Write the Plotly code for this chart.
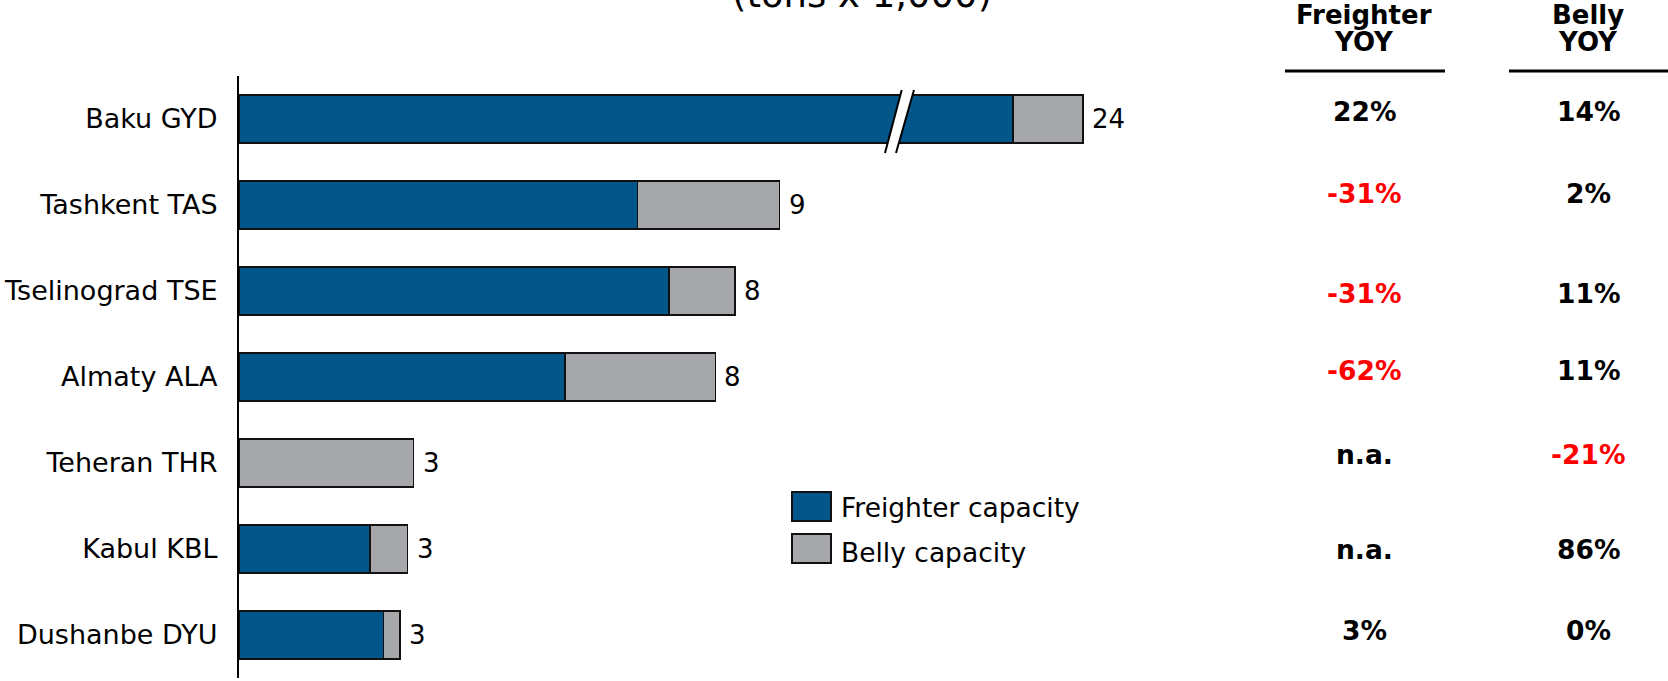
import plotly.graph_objects as go

# ---------------- data ----------------
categories = ["Baku GYD", "Tashkent TAS", "Tselinograd TSE", "Almaty ALA",
              "Teheran THR", "Kabul KBL", "Dushanbe DYU"]
freighter = [22.8, 6.64, 7.17, 5.43, 0.0, 2.18, 2.41]   # tons x 1,000
belly = [1.17, 2.37, 1.10, 2.51, 2.91, 0.63, 0.27]      # tons x 1,000
freighter_yoy = ["22%", "-31%", "-31%", "-62%", "n.a.", "n.a.", "3%"]
belly_yoy = ["14%", "2%", "11%", "11%", "-21%", "86%", "0%"]
series_names = ["Freighter capacity", "Belly capacity"]
table_headers = [["Freighter", "YOY"], ["Belly", "YOY"]]
title_text = "(tons x 1,000)"

# ---------------- styles / layout ----------------
BLUE = "#03568A"
GRAY = "#A5A7AA"
RED = "#FF0000"
OUTLINE = "#111111"
FONT = "DejaVu Sans"

W, H = 1668, 681
PLOT_L, PLOT_R, PLOT_T, PLOT_B = 239, 1200, 76, 678
PX_PER_UNIT = 60.0          # horizontal scale
BREAK_PX = 899              # where the broken bar is cut
RESUME_VAL = 20.9           # value where the scale resumes after the break

pw = PLOT_R - PLOT_L
ph = PLOT_B - PLOT_T


def px_x(px):
    return (px - PLOT_L) / pw


def px_y(py):
    return (PLOT_B - py) / ph


split = px_x(BREAK_PX)
x1_max = (BREAK_PX - PLOT_L) / PX_PER_UNIT
x2_range = [RESUME_VAL, RESUME_VAL + (PLOT_R - BREAK_PX) / PX_PER_UNIT]

totals = [f + b for f, b in zip(freighter, belly)]
broken = [i for i, t in enumerate(totals) if t > x1_max]

fig = go.Figure()
bar_line = dict(color=OUTLINE, width=1.6)

for vals, color in ((freighter, BLUE), (belly, GRAY)):
    fig.add_trace(go.Bar(
        y=categories, x=vals, orientation="h",
        marker=dict(color=color, line=bar_line),
        xaxis="x", yaxis="y", showlegend=False, hoverinfo="skip"))
    fig.add_trace(go.Bar(
        y=[categories[i] for i in broken], x=[vals[i] for i in broken],
        orientation="h", marker=dict(color=color, line=bar_line),
        xaxis="x2", yaxis="y", showlegend=False, hoverinfo="skip"))

annotations = []
# total labels
for i, (c, t) in enumerate(zip(categories, totals)):
    annotations.append(dict(
        x=t, y=c, xref="x2" if i in broken else "x", yref="y",
        text=str(int(round(t))), showarrow=False, xanchor="left",
        xshift=7, font=dict(family=FONT, size=26, color="#000")))

# title (mostly cut off at the top)
annotations.append(dict(
    x=px_x(862), y=px_y(-6), xref="paper", yref="paper", text=title_text,
    showarrow=False, xanchor="center", yanchor="middle",
    font=dict(family=FONT, size=37, color="#000")))

# table
COL_X = [1364, 1588]
HEAD_Y = [15, 42]
TABLE_Y = [112, 194, 293, 370, 454, 549, 630]
HEAD_LINES = [(1285, 1445), (1509, 1668)]
for col, (hx, head) in enumerate(zip(COL_X, table_headers)):
    for line_txt, hy in zip(head, HEAD_Y):
        annotations.append(dict(
            x=px_x(hx), y=px_y(hy), xref="paper", yref="paper", text="<b>%s</b>" % line_txt,
            showarrow=False, xanchor="center", yanchor="middle",
            font=dict(family=FONT, size=26, color="#000")))
    vals = freighter_yoy if col == 0 else belly_yoy
    for v, ty in zip(vals, TABLE_Y):
        annotations.append(dict(
            x=px_x(hx), y=px_y(ty), xref="paper", yref="paper", text="<b>%s</b>" % v,
            showarrow=False, xanchor="center", yanchor="middle",
            font=dict(family=FONT, size=26.5, color=RED if v.startswith("-") else "#000")))

shapes = []
for x0, x1 in HEAD_LINES:
    shapes.append(dict(type="line", xref="paper", yref="paper",
                       x0=px_x(x0), x1=px_x(x1), y0=px_y(71), y1=px_y(71),
                       line=dict(color="#000", width=3)))

# break marks on the broken bar(s)
for i in broken:
    shapes.append(dict(type="path", xref="paper", xsizemode="pixel", xanchor=split,
                       yref="y", ysizemode="pixel", yanchor=categories[i],
                       path="M -14,-34 L 2.7,29 L 15,29 L -3,-34 Z",
                       fillcolor="white", line=dict(width=0), layer="above"))
    for p in ("M -14,-34 L 2.7,29", "M -3,-34 L 15,29"):
        shapes.append(dict(type="path", xref="paper", xsizemode="pixel", xanchor=split,
                           yref="y", ysizemode="pixel", yanchor=categories[i],
                           path=p, line=dict(color="#000", width=2), layer="above"))

# legend (drawn manually for large swatches)
LEG_BOX_X = (792, 831)
LEG_BOX_Y = [(492, 521), (534, 563)]
LEG_TXT_Y = [507, 552]
for name, color, (y0, y1), ty in zip(series_names, (BLUE, GRAY), LEG_BOX_Y, LEG_TXT_Y):
    shapes.append(dict(type="rect", xref="paper", yref="paper",
                       x0=px_x(LEG_BOX_X[0]), x1=px_x(LEG_BOX_X[1]),
                       y0=px_y(y1), y1=px_y(y0), fillcolor=color,
                       line=dict(color=OUTLINE, width=2)))
    annotations.append(dict(
        x=px_x(839), y=px_y(ty), xref="paper", yref="paper", text=name,
        showarrow=False, xanchor="left", yanchor="middle",
        font=dict(family=FONT, size=26.5, color="#000")))

fig.update_layout(
    width=W, height=H,
    margin=dict(l=PLOT_L, r=W - PLOT_R, t=PLOT_T, b=H - PLOT_B, pad=0),
    paper_bgcolor="white", plot_bgcolor="white",
    barmode="stack", bargap=0.442,
    font=dict(family=FONT, size=26, color="#000"),
    xaxis=dict(domain=[0, split], range=[0, x1_max], visible=False,
               showgrid=False, zeroline=False, anchor="y"),
    xaxis2=dict(domain=[split, 1], range=x2_range, visible=False,
                showgrid=False, zeroline=False, anchor="y"),
    yaxis=dict(type="category", categoryorder="array", categoryarray=categories,
               autorange="reversed", showline=True, linecolor="#000", linewidth=2,
               showgrid=False, zeroline=False, ticks="", ticklabelstandoff=14,
               tickfont=dict(family=FONT, size=27, color="#000"), anchor="x"),
    annotations=annotations, shapes=shapes,
)

fig.write_html("out.html")
